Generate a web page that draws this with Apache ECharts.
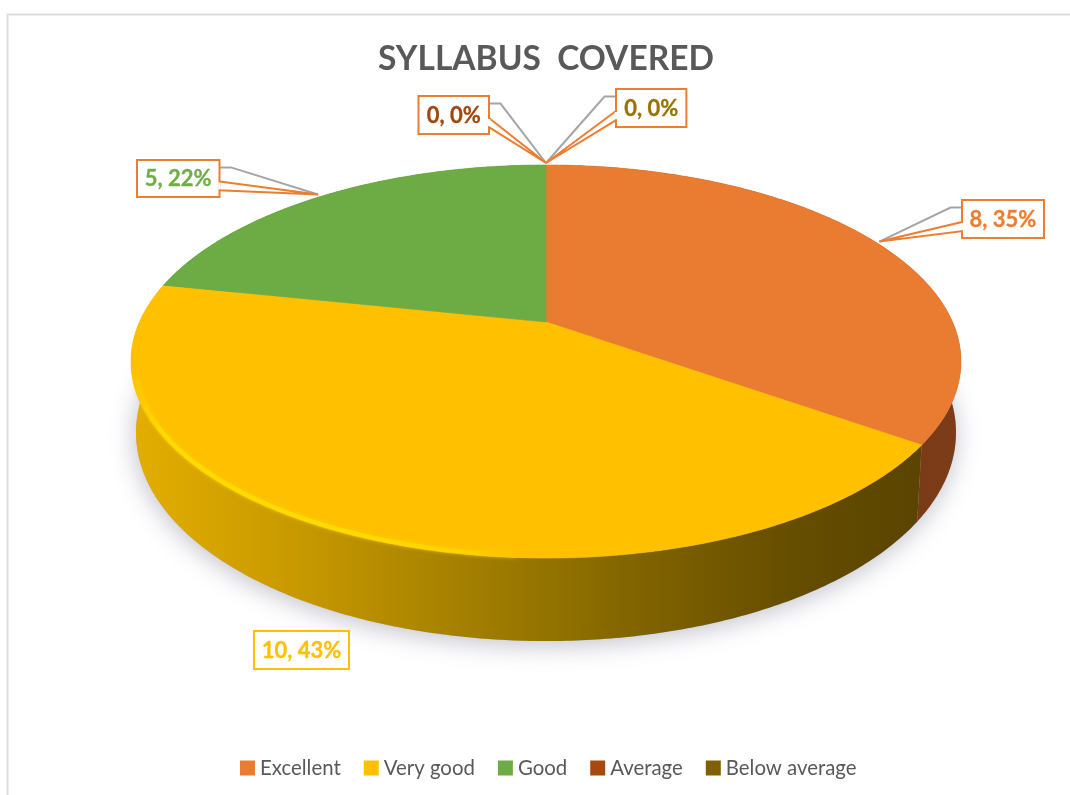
<!DOCTYPE html>
<html>
<head>
<meta charset="utf-8">
<style>html,body{margin:0;padding:0;background:#fff}#c{width:1070px;height:795px}</style>
<script src="https://cdn.jsdelivr.net/npm/echarts@6/dist/echarts.min.js"></script>
</head>
<body>
<div id="c"></div>
<script>
const titleText = 'SYLLABUS  COVERED';
const categories = ['Excellent', 'Very good', 'Good', 'Average', 'Below average'];
const values = [8, 10, 5, 0, 0];
const percents = [35, 43, 22, 0, 0];

const faceColors = ['#e97c30', '#ffc000', '#6dab45', '#a5490f', '#7f6000'];
const labelColors = ['#ed7d31', '#ffc000', '#70ad47', '#9e480e', '#997300'];
const FONT = 'Lato, "Open Sans", sans-serif';

// label box layout: x0, y0, x1, y1, side of leader, and whether it has a callout
const boxes = [
  {x0: 962, y0: 200, x1: 1044, y1: 238, side: -1, callout: true, tipOffset: [3, -1]},
  {x0: 254, y0: 631, x1: 349, y1: 669, side: 0, callout: false},
  {x0: 137, y0: 160, x1: 219.5, y1: 197, side: 1, callout: true, tipOffset: [-6, -1]},
  {x0: 418.5, y0: 96, x1: 489, y1: 134, side: 1, callout: true, tipOffset: [0, 0]},
  {x0: 616, y0: 89, x1: 686.4, y1: 127, side: -1, callout: true, tipOffset: [0, 0]}
];
const stemTipY = 163;

// Perspective disc: a unit circle tilted away from the viewer
const CX = 546, CY = 322, A = 406.5, Q = 188.6, P = 0.201;
function project(theta) {
  const u = Math.sin(theta), v = Math.cos(theta), w = 1 + P * v;
  return [CX + A * u / w, CY - Q * v / w];
}
function projectLow(theta) {
  const p = project(theta), v = Math.cos(theta);
  return [CX + (p[0] - CX) * 0.988, p[1] + 68 - 15 * v];
}
function arc(fn, a0, a1) {
  const n = Math.max(2, Math.ceil(Math.abs(a1 - a0) / 0.01));
  const pts = [];
  for (let i = 0; i <= n; i++) pts.push(fn(a0 + (a1 - a0) * i / n));
  return pts;
}
const lin = (stops) => new echarts.graphic.LinearGradient(0, 0, 1, 0, stops.map((c) => ({offset: c[0], color: c[1]})));

const wallFills = [
  lin([[0, '#6a3214'], [0.5, '#733716'], [1, '#7c3c18']]),
  lin([[0, '#e3ae00'], [0.2, '#c99a00'], [0.47, '#9c7a00'], [0.66, '#7e6100'], [0.85, '#644c00'], [1, '#5a4400']]),
  '#4e7a30', '#6e300a', '#5f4800'
];

const total = values.reduce((a, b) => a + b, 0);
let running = 0;
const series = [{
  name: 'ground', type: 'custom', coordinateSystem: 'none', silent: true, z: 1,
  data: [[0]],
  renderItem: () => ({
    type: 'polygon', silent: true,
    shape: {points: arc(projectLow, 0, Math.PI * 2)},
    style: {fill: '#b9b9c4', shadowBlur: 24, shadowColor: 'rgba(105,105,130,0.42)', shadowOffsetX: -1, shadowOffsetY: 4}
  })
}];

categories.forEach((name, idx) => {
  const start = running / total * Math.PI * 2;
  running += values[idx];
  const end = running / total * Math.PI * 2;
  series.push({
    name, type: 'custom', coordinateSystem: 'none', z: 2,
    itemStyle: {color: faceColors[idx]},
    data: [[values[idx], percents[idx]]],
    renderItem: (params, api) => {
      const val = api.value(0), pct = api.value(1);
      const kids = [];
      if (val > 0) {
        const upper = arc(project, start, end), lower = arc(projectLow, start, end);
        kids.push({
          type: 'polygon', z2: 1,
          shape: {points: upper.concat(lower.slice().reverse())},
          style: {fill: wallFills[idx]}
        });
        kids.push({
          type: 'polygon', z2: 2,
          shape: {points: [[CX, CY]].concat(upper)},
          style: {fill: faceColors[idx], stroke: faceColors[idx], lineWidth: 0.6}
        });
        const r0 = Math.max(start, 3.2), r1 = Math.min(end, 4.42);
        if (r1 > r0) {
          const inset = (t) => { const p = project(t); return [CX + (p[0] - CX) * 0.993, CY + (p[1] - CY) * 0.99]; };
          kids.push({
            type: 'polyline', z2: 3,
            shape: {points: arc(inset, r0, r1)},
            style: {
              fill: null, lineWidth: 4, shadowBlur: 4, shadowColor: 'rgba(255,214,0,0.8)',
              stroke: lin([[0, '#ffc400'], [0.08, '#ffdc00'], [0.6, '#ffdc00'], [0.88, '#ffd000'], [1, '#ffc000']])
            }
          });
        }
      }
      const b = boxes[idx];
      const color = labelColors[idx];
      const edge = idx === 1 ? '#ffc000' : '#ed7d31';
      if (b.callout) {
        const mid = (start + end) / 2, tp = project(mid);
        const tip = val > 0 ? [tp[0] + b.tipOffset[0], tp[1] + b.tipOffset[1]] : [CX, stemTipY];
        const ex = b.side > 0 ? b.x1 : b.x0, h = b.y1 - b.y0;
        kids.push({
          type: 'polyline', z2: 4,
          shape: {points: [[ex, b.y0 + h * 0.2], [ex + b.side * 11.5, b.y0 + h * 0.2], tip]},
          style: {fill: null, stroke: '#a5a5a5', lineWidth: 2}
        });
        kids.push({
          type: 'polygon', z2: 5,
          shape: {points: [[ex, b.y0 + h * 0.58], tip, [ex, b.y0 + h * 0.82]]},
          style: {fill: '#ffffff', stroke: edge, lineWidth: 2}
        });
      }
      kids.push({
        type: 'rect', z2: 6,
        shape: {x: b.x0, y: b.y0, width: b.x1 - b.x0, height: b.y1 - b.y0},
        style: {fill: '#ffffff', stroke: edge, lineWidth: 2}
      });
      if (b.callout) {
        const ex = b.side > 0 ? b.x1 : b.x0, h = b.y1 - b.y0;
        kids.push({
          type: 'line', z2: 7,
          shape: {x1: ex, y1: b.y0 + h * 0.58 + 1, x2: ex, y2: b.y0 + h * 0.82 - 1},
          style: {stroke: '#ffffff', lineWidth: 2.4}
        });
      }
      kids.push({
        type: 'text', z2: 8,
        style: {
          x: (b.x0 + b.x1) / 2, y: (b.y0 + b.y1) / 2 + 0.5, text: val + ', ' + pct + '%',
          align: 'center', verticalAlign: 'middle',
          font: 'bold 22px ' + FONT, fill: color, stroke: color, lineWidth: 0.3
        }
      });
      return {type: 'group', children: kids};
    }
  });
});

const chart = echarts.init(document.getElementById('c'), null, {renderer: 'canvas'});
chart.setOption({
  animation: false,
  backgroundColor: '#ffffff',
  title: {
    text: titleText, left: 378, top: 37,
    textStyle: {fontFamily: FONT, fontWeight: 'bold', fontSize: 33.5, color: '#595959', lineHeight: 44},
    padding: 0, itemGap: 0
  },
  legend: {
    data: categories, left: 240, top: 758, orient: 'horizontal', padding: 0,
    itemWidth: 15, itemHeight: 15, itemGap: 23, icon: 'rect',
    selectedMode: false,
    textStyle: {fontFamily: FONT, fontSize: 20.4, color: '#595959'}
  },
  graphic: [{
    type: 'polyline', silent: true, z: 0,
    shape: {points: [[7.5, 795], [7.5, 14.5], [1070, 14.5]]},
    style: {fill: null, stroke: '#dddddd', lineWidth: 2}
  }],
  series
});
</script>
</body>
</html>
